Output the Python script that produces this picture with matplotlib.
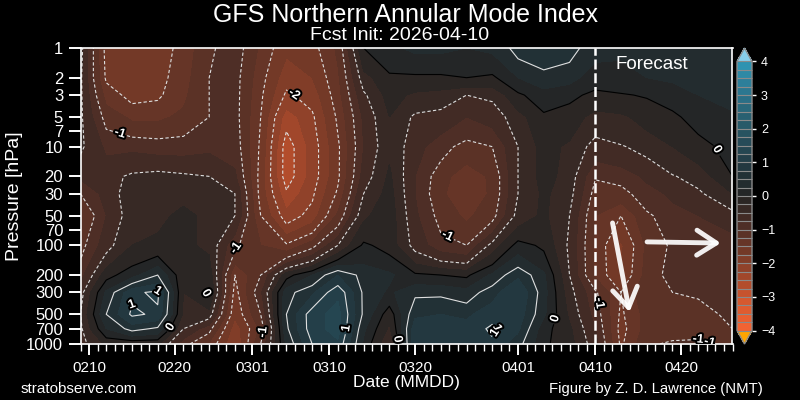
import numpy as np
import matplotlib
matplotlib.use("Agg")
import matplotlib.pyplot as plt
import matplotlib.dates as mdates
from matplotlib.colors import LinearSegmentedColormap, BoundaryNorm
import matplotlib.patheffects as pe

plt.rcParams['font.family'] = ['Liberation Sans', 'DejaVu Sans']

# ---------------- data ----------------
dates = ['2026-02-09', '2026-02-12', '2026-02-15', '2026-02-18', '2026-02-21',
         '2026-02-24', '2026-02-27', '2026-03-02', '2026-03-05', '2026-03-08',
         '2026-03-11', '2026-03-14', '2026-03-17', '2026-03-20', '2026-03-23',
         '2026-03-26', '2026-03-29', '2026-04-01', '2026-04-04', '2026-04-07',
         '2026-04-10', '2026-04-13', '2026-04-16', '2026-04-19', '2026-04-22',
         '2026-04-26']
pressure = [1000, 700, 500, 300, 200, 100, 50, 30, 20, 10, 5, 3, 2, 1]

nam_1000 = [-0.6, -0.2, -0.2, -0.2, -0.9, -1.3, -2.0, -1.0, 0.3, 1.0, 1.2, 0.2, -0.5, 0.95, 1.0, 1.0, 0.95, 0.6, 0.05, -0.15, -0.65, -1.55, -1.05, -0.95, -0.95, -1.05]
nam_700 = [-0.55, 0.25, 0.6, 0.45, -0.5, -0.9, -1.9, -1.2, 0.45, 1.15, 1.35, 0.3, -0.3, 0.9, 0.95, 0.85, 1.05, 0.8, 0.1, -0.2, -0.75, -1.6, -1.15, -1.15, -1.1, -1.0]
nam_500 = [-0.5, 0.5, 1.05, 0.95, -0.3, -0.35, -1.7, -1.0, 0.5, 1.15, 1.35, 0.45, -0.15, 0.7, 0.75, 0.7, 0.9, 0.9, 0.3, -0.3, -0.85, -1.55, -1.15, -1.15, -1.15, -0.9]
nam_300 = [-0.6, 0.3, 0.95, 1.05, -0.25, 0.05, -1.6, -0.8, 0.4, 0.7, 1.2, 0.45, 0.2, 0.45, 0.45, 0.35, 0.65, 1.0, 0.35, -0.4, -0.95, -1.5, -1.05, -1.0, -0.95, -0.85]
nam_200 = [-0.85, -0.1, 0.15, 0.5, -0.2, -0.1, -1.5, -1.0, -0.1, 0.25, 0.75, 0.4, 0.3, 0.05, 0.0, -0.05, 0.3, 0.7, 0.3, -0.5, -1.3, -1.75, -1.15, -0.9, -0.85, -1.0]
nam_100 = [-1.1, -0.6, -0.25, -0.2, -0.2, -0.3, -0.95, -1.25, -1.45, -1.1, -0.5, 0.05, -0.1, -0.6, -0.9, -1.0, -0.4, 0.1, -0.05, -0.55, -1.3, -1.8, -1.2, -0.95, -0.9, -0.9]
nam_50 = [-1.3, -0.75, -0.35, -0.3, -0.2, -0.3, -0.5, -1.5, -2.15, -1.9, -1.2, -0.3, -0.1, -0.7, -1.1, -1.3, -1.1, -0.4, -0.2, -0.5, -1.25, -1.5, -1.05, -0.85, -0.75, -0.6]
nam_30 = [-1.0, -0.65, -0.35, -0.3, -0.3, -0.4, -0.5, -1.6, -2.45, -2.05, -1.45, -0.5, -0.15, -0.75, -1.2, -1.45, -1.2, -0.5, -0.2, -0.4, -1.1, -1.1, -0.85, -0.7, -0.55, -0.25]
nam_20 = [-0.7, -0.6, -0.45, -0.4, -0.45, -0.5, -0.7, -1.6, -2.65, -2.15, -1.55, -0.65, -0.2, -0.75, -1.15, -1.4, -1.2, -0.5, -0.15, -0.35, -0.98, -0.9, -0.7, -0.52, -0.4, 0.0]
nam_10 = [-0.45, -0.8, -0.8, -0.85, -0.85, -0.8, -0.85, -1.55, -2.65, -2.15, -1.55, -0.75, -0.3, -0.65, -0.9, -1.1, -1.0, -0.5, -0.15, -0.3, -0.6, -0.52, -0.42, -0.25, -0.1, 0.1]
nam_5 = [-0.45, -1.1, -1.3, -1.3, -1.2, -1.0, -0.9, -1.5, -2.4, -2.05, -1.45, -0.7, -0.25, -0.55, -0.6, -0.75, -0.65, -0.35, -0.05, -0.1, -0.35, -0.3, -0.15, -0.05, 0.1, 0.2]
nam_3 = [-0.45, -1.35, -1.6, -1.55, -1.3, -1.0, -0.9, -1.45, -2.05, -1.9, -1.35, -0.55, -0.15, -0.3, -0.35, -0.5, -0.45, -0.05, 0.15, 0.05, -0.05, -0.02, 0.02, 0.1, 0.25, 0.35]
nam_2 = [-0.45, -1.55, -1.65, -1.6, -1.35, -1.0, -0.9, -1.4, -1.9, -1.75, -1.3, -0.35, -0.05, -0.05, -0.05, 0.0, -0.05, 0.25, 0.4, 0.35, 0.1, 0.15, 0.25, 0.3, 0.4, 0.45]
nam_1 = [-0.4, -1.6, -1.65, -1.65, -1.4, -1.05, -0.85, -1.3, -1.7, -1.6, -1.2, 0.0, 0.2, 0.3, 0.3, 0.25, 0.3, 0.6, 0.7, 0.6, 0.35, 0.3, 0.35, 0.4, 0.45, 0.45]

init_date = '2026-04-10'
ytick_vals = [1, 2, 3, 5, 7, 10, 20, 30, 50, 70, 100, 200, 300, 500, 700, 1000]
cbar_ticks = [-4, -3, -2, -1, 0, 1, 2, 3, 4]

# contour label spots: (level, date, pressure)
label_spots = [(-1, '2026-02-13T20', 6.3), (-2, '2026-03-05T18', 3.1),
               (-1, '2026-02-27T06', 110), (1, '2026-02-15T00', 300),
               (1, '2026-02-18T14', 250), (0, '2026-02-22T14', 400),
               (0, '2026-02-19T17', 690), (-1, '2026-03-02T17', 770),
               (-1, '2026-03-24T05', 67), (1, '2026-03-11T19', 690),
               (0, '2026-03-17T10', 910), (1, '2026-04-02T00', 300),
               (1, '2026-03-29T12', 770), (0, '2026-04-07T19', 640),
               (-1, '2026-04-10T12', 385), (0, '2026-04-22T17', 12.7),
               (-1, '2026-04-22T00', 810), (-1, '2026-04-23T17', 720)]

# ---------------- figure ----------------
Z = np.array([nam_1000, nam_700, nam_500, nam_300, nam_200, nam_100, nam_50,
              nam_30, nam_20, nam_10, nam_5, nam_3, nam_2, nam_1])
xd = mdates.date2num(np.array(dates, dtype='datetime64[D]'))
P = np.array(pressure, dtype=float)
X, Y = np.meshgrid(xd, P)

anchors = [(-4.0, (248, 102, 52)), (-3.5, (232, 95, 49)), (-3.0, (212, 88, 47)),
           (-2.5, (175, 76, 44)), (-2.0, (138, 64, 41)), (-1.5, (110, 56, 39)),
           (-1.0, (85, 48, 38)), (-0.5, (60, 42, 37)), (0.0, (36, 36, 36)),
           (0.5, (34, 47, 51)), (1.0, (36, 61, 70)), (1.5, (38, 74, 86)),
           (2.0, (40, 88, 103)), (2.5, (42, 103, 122)), (3.0, (44, 118, 143)),
           (3.5, (46, 137, 165)), (4.0, (48, 157, 190))]
cmap = LinearSegmentedColormap.from_list(
    'nam', [((v + 4) / 8, tuple(c / 255 for c in col)) for v, col in anchors], N=256)
cmap.set_over((135 / 255, 206 / 255, 235 / 255))
cmap.set_under((255 / 255, 165 / 255, 0))
levels = np.arange(-4, 4.001, 0.25)
norm = BoundaryNorm(levels, cmap.N, extend='both')

fig = plt.figure(figsize=(8, 4), dpi=100, facecolor='black')
ax = fig.add_axes([80.5 / 800, 1 - 344 / 400, 652 / 800, 296 / 400])
ax.set_facecolor('black')

cf = ax.contourf(X, Y, Z, levels=levels, cmap=cmap, norm=norm, extend='both')

ax.set_yscale('log')
ax.set_ylim(1000, 1)
ax.set_xlim(mdates.date2num(np.datetime64('2026-02-09')),
            mdates.date2num(np.datetime64('2026-04-26')))

lv = np.arange(-3.5, 3.51, 0.5)
for l in lv:
    if not (Z.min() < l < Z.max()):
        continue
    col = 'black' if abs(l) < 1e-9 else '#e0e0e0'
    ls = (0, (3, 2)) if l < -1e-9 else 'solid'
    c = ax.contour(X, Y, Z, levels=[l], colors=[col], linewidths=0.8, linestyles=[ls])
    spots = [(mdates.date2num(np.datetime64(d)), p)
             for lev, d, p in label_spots if abs(lev - l) < 1e-9]
    if spots:
        texts = c.clabel(levels=[l], fmt=lambda v: '%d' % round(v), fontsize=9,
                         colors='white', inline=True, inline_spacing=2, manual=spots)
        for t in texts:
            t.set_fontweight('bold')
            t.set_path_effects([pe.withStroke(linewidth=2.8, foreground='black')])

ax.set_yticks(ytick_vals)
ax.set_yticklabels([str(v) for v in ytick_vals])
ax.yaxis.set_minor_locator(matplotlib.ticker.NullLocator())
ax.xaxis.set_major_locator(mdates.DayLocator(bymonthday=[1, 10, 20]))
ax.xaxis.set_major_formatter(mdates.DateFormatter('%m%d'))
ax.xaxis.set_minor_locator(mdates.DayLocator())

for s in ax.spines.values():
    s.set_color('white')
    s.set_linewidth(1.2)
ax.tick_params(axis='both', which='major', colors='white', width=1.4)
ax.tick_params(axis='x', which='major', length=8, pad=4.5, labelsize=11)
ax.tick_params(axis='x', which='minor', colors='white', length=5, width=1.0)
ax.tick_params(axis='y', which='major', length=8.5, pad=4, labelsize=12)

ax.set_ylabel('Pressure [hPa]', color='white', fontsize=14, labelpad=2)
ax.set_xlabel('Date (MMDD)', color='white', fontsize=12.5, labelpad=0)

# forecast marker
xi = mdates.date2num(np.datetime64(init_date))
ax.axvline(xi, color='white', lw=1.8, ls=(0, (4, 1.5)))
ax.text(0.877, 0.943, 'Forecast', transform=ax.transAxes, color='white',
        fontsize=13.5, ha='center', va='center')
arrow_kw = dict(arrowstyle='->,head_length=1.4,head_width=0.9', color='white',
                lw=3.5, alpha=0.92, shrinkA=0, shrinkB=0)
ax.annotate('', xy=(0.842, 0.108), xytext=(0.816, 0.409), xycoords='axes fraction',
            textcoords='axes fraction', arrowprops=arrow_kw)
ax.annotate('', xy=(0.982, 0.341), xytext=(0.869, 0.345), xycoords='axes fraction',
            textcoords='axes fraction', arrowprops=arrow_kw)

# colorbar
cax = fig.add_axes([737 / 800, 1 - 344 / 400, 15 / 800, 296 / 400])
cb = fig.colorbar(cf, cax=cax, extend='both', drawedges=True, ticks=cbar_ticks)
cb.outline.set_edgecolor('#8a8a8a')
cb.outline.set_linewidth(1.0)
cb.dividers.set_color('#8a8a8a')
cb.dividers.set_linewidth(0.8)
cax.tick_params(colors='white', labelsize=9, length=3, width=1)
cax.set_yticklabels(['\u2212' + str(abs(v)) if v < 0 else str(v) for v in cbar_ticks])

fig.text(406 / 800, 1 - 15 / 400, 'GFS Northern Annular Mode Index', color='white',
         fontsize=18, ha='center', va='center')
fig.text(400 / 800, 1 - 35 / 400, 'Fcst Init: ' + init_date, color='white',
         fontsize=14, ha='center', va='center')
fig.text(21 / 800, 1 - 389 / 400, 'stratobserve.com', color='white', fontsize=11,
         ha='left', va='center')
fig.text(763 / 800, 1 - 389 / 400, 'Figure by Z. D. Lawrence (NMT)', color='white',
         fontsize=10.7, ha='right', va='center')

fig.savefig('out.png', dpi=100, facecolor='black')
